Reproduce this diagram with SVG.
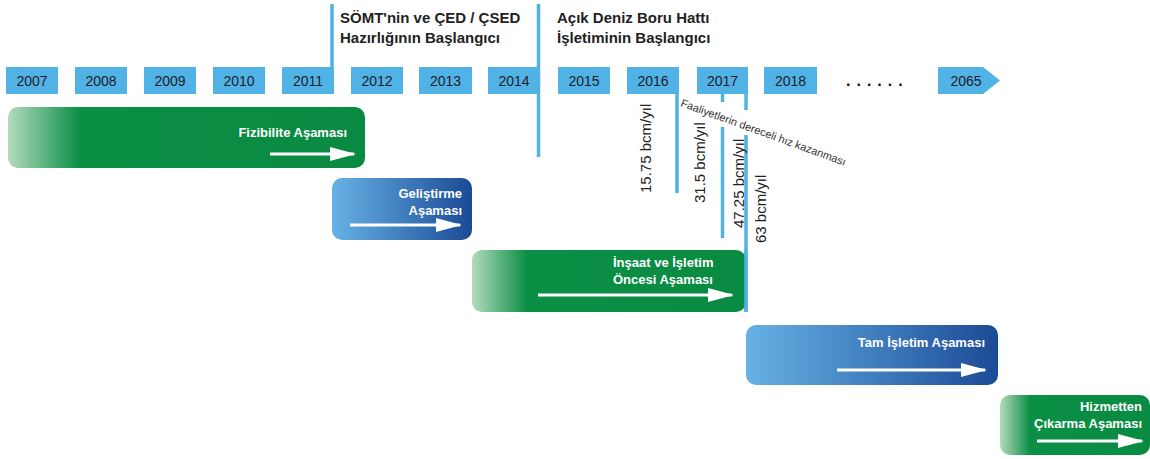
<svg xmlns="http://www.w3.org/2000/svg" width="1150" height="459" viewBox="0 0 1150 459">
  <style>
    .yr { fill: #51b2e5; }
    .yrt { font-family: "Liberation Sans", Arial, sans-serif; font-size: 14px; fill: #1c1c2c; text-anchor: middle; }
    .hdr { font-family: "Liberation Sans", Arial, sans-serif; font-size: 15px; font-weight: bold; fill: #222; }
    .rate { font-family: "Liberation Sans", Arial, sans-serif; font-size: 15px; fill: #222; }
    .note { font-family: "Liberation Sans", Arial, sans-serif; font-size: 11px; fill: #333; }
    .ph { font-family: "Liberation Sans", Arial, sans-serif; font-size: 13px; font-weight: bold; fill: #fff; }
    .vl { stroke: #51b2e5; stroke-width: 3.5; fill: none; }
    .arr { stroke: #fff; stroke-width: 3; fill: none; marker-end: url(#head); }
  </style>
  <defs>
    <linearGradient id="gGreen" x1="0" y1="0" x2="1" y2="0">
      <stop offset="0" stop-color="#b4dabe"/>
      <stop offset="0.2" stop-color="#0b8f45"/>
      <stop offset="1" stop-color="#098a42"/>
    </linearGradient>
    <linearGradient id="gBlue" x1="0" y1="0" x2="1" y2="0">
      <stop offset="0" stop-color="#66b2e5"/>
      <stop offset="1" stop-color="#1b4a96"/>
    </linearGradient>
    <marker id="head" markerUnits="userSpaceOnUse" markerWidth="26" markerHeight="14" refX="24" refY="7" orient="auto">
      <path d="M0,0 L26,7 L0,14 Z" fill="#fff"/>
    </marker>
  </defs>

  <!-- timeline: year boxes -->
  <g id="timeline">
    <rect class="yr" x="6" y="67" width="52" height="27"/><text class="yrt" x="32" y="86">2007</text>
    <rect class="yr" x="75" y="67" width="52" height="27"/><text class="yrt" x="101" y="86">2008</text>
    <rect class="yr" x="144" y="67" width="52" height="27"/><text class="yrt" x="170" y="86">2009</text>
    <rect class="yr" x="213" y="67" width="52" height="27"/><text class="yrt" x="239" y="86">2010</text>
    <rect class="yr" x="282" y="67" width="52" height="27"/><text class="yrt" x="308" y="86">2011</text>
    <rect class="yr" x="351" y="67" width="52" height="27"/><text class="yrt" x="377" y="86">2012</text>
    <rect class="yr" x="419" y="67" width="53" height="27"/><text class="yrt" x="445.5" y="86">2013</text>
    <rect class="yr" x="488" y="67" width="52" height="27"/><text class="yrt" x="514" y="86">2014</text>
    <rect class="yr" x="558" y="67" width="52" height="27"/><text class="yrt" x="584" y="86">2015</text>
    <rect class="yr" x="627" y="67" width="52" height="27"/><text class="yrt" x="653" y="86">2016</text>
    <rect class="yr" x="697" y="67" width="51" height="27"/><text class="yrt" x="722.5" y="86">2017</text>
    <rect class="yr" x="764" y="67" width="53" height="27"/><text class="yrt" x="790.5" y="86">2018</text>
    <text x="846" y="86" font-family="Liberation Sans, Arial, sans-serif" font-size="16" font-weight="bold" fill="#111" letter-spacing="6">......</text>
    <polygon class="yr" points="938,67 983,67 1000,80.5 983,94 938,94"/><text class="yrt" x="966" y="86">2065</text>
  </g>

  <!-- milestone and capacity markers -->
  <g id="connectors">
    <line class="vl" x1="332" y1="4" x2="332" y2="67"/>
    <line class="vl" x1="538.5" y1="4" x2="538.5" y2="157"/>
    <line class="vl" x1="677" y1="94" x2="677" y2="193"/>
    <line class="vl" x1="722.5" y1="94" x2="722.5" y2="102"/>
    <line class="vl" x1="722.5" y1="127" x2="722.5" y2="238"/>
    <line class="vl" x1="746" y1="94" x2="746" y2="110"/>
    <line class="vl" x1="746" y1="135" x2="746" y2="312"/>
  </g>

  <g id="milestone-1">
    <text class="hdr" x="340" y="23">SÖMT'nin ve ÇED / ÇSED</text>
    <text class="hdr" x="340" y="43">Hazırlığının Başlangıcı</text>
  </g>
  <g id="milestone-2">
    <text class="hdr" x="557" y="23">Açık Deniz Boru Hattı</text>
    <text class="hdr" x="557" y="43">İşletiminin Başlangıcı</text>
  </g>

  <g id="capacity">
    <text class="rate" transform="translate(651,193) rotate(-90)">15.75 bcm/yıl</text>
    <text class="rate" transform="translate(705,203) rotate(-90)">31.5 bcm/yıl</text>
    <text class="rate" transform="translate(744,228) rotate(-90)">47.25 bcm/yıl</text>
    <text class="rate" transform="translate(766,243) rotate(-90)">63 bcm/yıl</text>
    <text class="note" transform="translate(680,106) rotate(20)">Faaliyetlerin dereceli hız kazanması</text>
  </g>

  <!-- phases -->
  <g id="phase-feasibility">
    <rect x="8" y="107" width="357" height="61" rx="10" fill="url(#gGreen)"/>
    <text class="ph" x="347" y="137" text-anchor="end">Fizibilite Aşaması</text>
    <line class="arr" x1="270" y1="154" x2="354" y2="154"/>
  </g>

  <g id="phase-development">
    <rect x="332" y="178" width="140" height="62" rx="10" fill="url(#gBlue)"/>
    <text class="ph" x="462" y="198" text-anchor="end">Geliştirme</text>
    <text class="ph" x="462" y="215" text-anchor="end">Aşaması</text>
    <line class="arr" x1="350" y1="225" x2="460" y2="225"/>
  </g>

  <g id="phase-construction">
    <rect x="472" y="250" width="274" height="62" rx="10" fill="url(#gGreen)"/>
    <text class="ph" x="613" y="267">İnşaat ve İşletim</text>
    <text class="ph" x="613" y="284">Öncesi Aşaması</text>
    <line class="arr" x1="538" y1="295" x2="732" y2="295"/>
    <line class="vl" x1="746" y1="250" x2="746" y2="312"/>
  </g>

  <g id="phase-operation">
    <rect x="746" y="325" width="252" height="60" rx="10" fill="url(#gBlue)"/>
    <text class="ph" x="985" y="347" text-anchor="end">Tam İşletim Aşaması</text>
    <line class="arr" x1="837" y1="370" x2="985" y2="370"/>
  </g>

  <g id="phase-decommissioning">
    <rect x="1000" y="395" width="150" height="60" rx="10" fill="url(#gGreen)"/>
    <text class="ph" x="1142" y="411" text-anchor="end">Hizmetten</text>
    <text class="ph" x="1142" y="428" text-anchor="end">Çıkarma Aşaması</text>
    <line class="arr" x1="1037" y1="441" x2="1142" y2="441"/>
  </g>
</svg>
